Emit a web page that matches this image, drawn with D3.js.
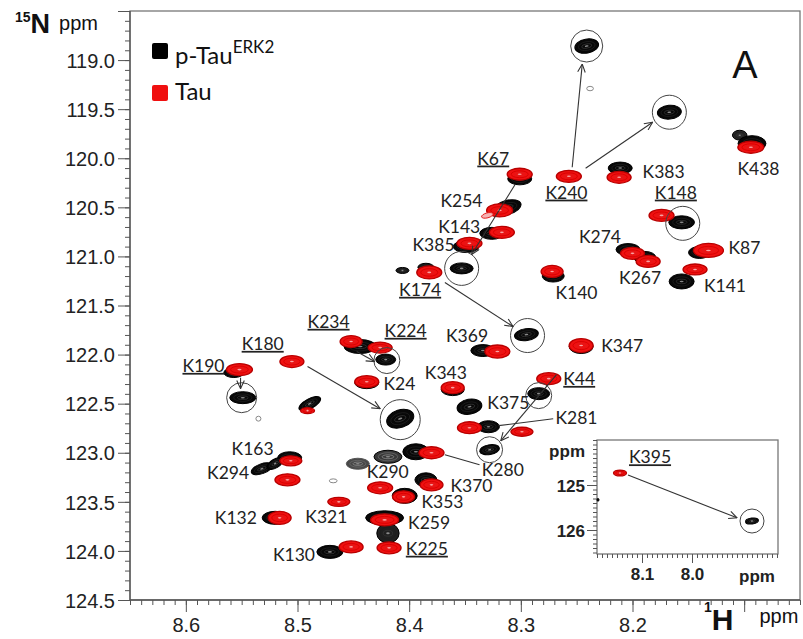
<!DOCTYPE html>
<html><head><meta charset="utf-8">
<script src="https://cdn.jsdelivr.net/npm/d3@7"></script>
<style>
body{margin:0;background:#fff;}
svg{display:block;}
.tick text{font-family:"Liberation Sans",Arial,sans-serif;fill:#222;}
</style></head><body>
<svg id="chart" width="803" height="639"></svg>
<script>
// 1H-15N HSQC cross peaks: [1H ppm, 15N ppm, 1H width ppm, 15N width ppm, intensity, tilt deg]
const pTauPeaks = [
  [8.241, 118.857, 0.0215, 0.143, 1, -10],
  [8.238, 119.290, 0.0060, 0.045, 0.5],
  [8.167, 119.531, 0.0215, 0.140, 1, -5],
  [8.104, 119.765, 0.0130, 0.100, 0.8],
  [8.093, 119.850, 0.0250, 0.160, 1],
  [8.211, 120.100, 0.0215, 0.122, 1],
  [8.301, 120.210, 0.0215, 0.122, 1],
  [8.312, 120.500, 0.0250, 0.143, 1, -15],
  [8.326, 120.765, 0.0215, 0.122, 1],
  [8.349, 120.900, 0.0230, 0.122, 1],
  [8.353, 121.122, 0.0206, 0.112, 1],
  [8.406, 121.143, 0.0116, 0.061, 0.9],
  [8.385, 121.110, 0.0143, 0.080, 0.9],
  [8.271, 121.200, 0.0197, 0.122, 1],
  [8.204, 120.930, 0.0215, 0.122, 1],
  [8.189, 121.010, 0.0197, 0.122, 1],
  [8.156, 120.653, 0.0230, 0.133, 1],
  [8.140, 120.960, 0.0197, 0.122, 1],
  [8.156, 121.255, 0.0224, 0.153, 1],
  [8.246, 121.918, 0.0215, 0.143, 1],
  [8.284, 122.398, 0.0197, 0.122, 1],
  [8.346, 122.531, 0.0224, 0.153, 1, -10],
  [8.361, 122.357, 0.0206, 0.122, 1],
  [8.334, 121.959, 0.0215, 0.122, 1],
  [8.295, 121.796, 0.0215, 0.122, 1, -8],
  [8.444, 121.918, 0.0287, 0.143, 1],
  [8.421, 122.051, 0.0179, 0.112, 1],
  [8.438, 122.286, 0.0215, 0.122, 1],
  [8.408, 122.653, 0.0250, 0.180, 1, -18],
  [8.489, 122.500, 0.0215, 0.100, 1, -28],
  [8.557, 122.184, 0.0180, 0.100, 1],
  [8.549, 122.439, 0.0233, 0.122, 1],
  [8.535, 122.653, 0.0045, 0.050, 0.4],
  [8.532, 123.163, 0.0197, 0.100, 1, -20],
  [8.507, 123.051, 0.0215, 0.122, 1],
  [8.520, 123.110, 0.0160, 0.090, 1, -30],
  [8.520, 123.663, 0.0233, 0.133, 1],
  [8.471, 124.010, 0.0233, 0.133, 1],
  [8.446, 123.112, 0.0206, 0.112, 0.6],
  [8.419, 123.041, 0.0250, 0.133, 0.7],
  [8.394, 122.990, 0.0233, 0.163, 1],
  [8.385, 123.276, 0.0197, 0.143, 1],
  [8.404, 123.439, 0.0224, 0.153, 1],
  [8.422, 123.663, 0.0340, 0.143, 1],
  [8.419, 123.820, 0.0200, 0.200, 0.85],
  [8.329, 122.735, 0.0197, 0.122, 1],
  [8.328, 122.969, 0.0179, 0.100, 1, -10],
  [8.468, 123.286, 0.0070, 0.040, 0.4]
];

const tauPeaks = [
  [8.094, 119.888, 0.0233, 0.122, 1],
  [8.257, 120.184, 0.0224, 0.122, 1],
  [8.212, 120.194, 0.0215, 0.122, 1],
  [8.301, 120.163, 0.0224, 0.122, 1],
  [8.319, 120.531, 0.0233, 0.133, 1],
  [8.330, 120.582, 0.0107, 0.050, 0.4, -15],
  [8.317, 120.755, 0.0224, 0.122, 1],
  [8.346, 120.867, 0.0224, 0.122, 1],
  [8.382, 121.163, 0.0224, 0.133, 1],
  [8.272, 121.153, 0.0197, 0.122, 1],
  [8.200, 120.969, 0.0215, 0.122, 1],
  [8.186, 121.051, 0.0215, 0.122, 1],
  [8.174, 120.582, 0.0224, 0.122, 1],
  [8.132, 120.939, 0.0269, 0.143, 1],
  [8.144, 121.133, 0.0215, 0.112, 1],
  [8.246, 121.908, 0.0215, 0.143, 1],
  [8.275, 122.245, 0.0215, 0.122, 1],
  [8.361, 122.337, 0.0206, 0.122, 1],
  [8.321, 121.969, 0.0224, 0.133, 1],
  [8.452, 121.867, 0.0197, 0.122, 1],
  [8.426, 121.929, 0.0215, 0.112, 1],
  [8.438, 122.276, 0.0215, 0.122, 1],
  [8.505, 122.071, 0.0215, 0.122, 1],
  [8.552, 122.153, 0.0233, 0.122, 1],
  [8.491, 122.571, 0.0125, 0.061, 1],
  [8.506, 123.082, 0.0197, 0.102, 1],
  [8.509, 123.276, 0.0224, 0.122, 1],
  [8.516, 123.663, 0.0206, 0.133, 1],
  [8.463, 123.500, 0.0197, 0.092, 1],
  [8.452, 123.959, 0.0215, 0.122, 1],
  [8.426, 123.357, 0.0224, 0.122, 1],
  [8.380, 123.000, 0.0224, 0.122, 1],
  [8.380, 123.327, 0.0206, 0.122, 1],
  [8.405, 123.449, 0.0197, 0.122, 1],
  [8.422, 123.684, 0.0250, 0.122, 1],
  [8.418, 123.969, 0.0215, 0.122, 1],
  [8.346, 122.745, 0.0215, 0.122, 1],
  [8.299, 122.786, 0.0197, 0.092, 1]
];

// Residue assignments: [label, 1H ppm, 15N ppm, underlined]
const assignments = [
  ["K67", 8.339, 120.000, true], ["K240", 8.278, 120.347, true], ["K383", 8.191, 120.133, false],
  ["K438", 8.106, 120.102, false], ["K148", 8.180, 120.347, true], ["K254", 8.372, 120.429, false],
  ["K143", 8.374, 120.694, false], ["K385", 8.397, 120.878, false], ["K174", 8.409, 121.337, true],
  ["K274", 8.248, 120.796, false], ["K267", 8.212, 121.214, false], ["K87", 8.114, 120.908, false],
  ["K141", 8.136, 121.296, false], ["K140", 8.269, 121.367, false], ["K369", 8.367, 121.806, false],
  ["K234", 8.491, 121.663, true], ["K224", 8.422, 121.755, true], ["K180", 8.550, 121.888, true],
  ["K24", 8.423, 122.296, false], ["K343", 8.386, 122.184, false], ["K375", 8.330, 122.490, false],
  ["K44", 8.262, 122.245, true], ["K347", 8.228, 121.908, false], ["K281", 8.269, 122.643, false],
  ["K280", 8.335, 123.173, false], ["K190", 8.603, 122.112, true], ["K163", 8.559, 122.959, false],
  ["K294", 8.581, 123.204, false], ["K132", 8.574, 123.663, false], ["K321", 8.493, 123.653, false],
  ["K130", 8.522, 124.041, false], ["K290", 8.438, 123.194, false], ["K370", 8.363, 123.340, false],
  ["K353", 8.389, 123.495, false], ["K259", 8.401, 123.712, false], ["K225", 8.403, 123.975, true]
];

// Shifted peaks marked by circles: [1H ppm, 15N ppm]
const shiftedPeaks = [
  [8.241, 118.857], [8.167, 119.531], [8.155, 120.663], [8.353, 121.122], [8.294, 121.806],
  [8.420, 122.061], [8.408, 122.663], [8.550, 122.439], [8.284, 122.418], [8.328, 122.969]
];
const circleRadius = [16, 17, 17, 17, 17, 13, 20, 15, 13, 13];

// Shift arrows and leader lines: [1H from, 15N from, 1H to, 15N to, arrowhead]
const shiftArrows = [
  [8.254, 120.092, 8.245, 119.041, true],
  [8.242, 120.102, 8.182, 119.633, true],
  [8.305, 120.265, 8.344, 120.980, true],
  [8.368, 121.265, 8.307, 121.714, true],
  [8.447, 121.969, 8.431, 122.071, true],
  [8.491, 122.122, 8.426, 122.551, true],
  [8.551, 122.235, 8.551, 122.347, true],
  [8.268, 122.204, 8.318, 122.878, true],
  [8.320, 122.724, 8.271, 122.653, false],
  [8.368, 123.020, 8.337, 123.122, false]
];

// Inset region (K395)
const insetTau = [[8.144, 124.733, 0.026, 0.13, 1]];
const insetPTau = [[7.880, 125.800, 0.026, 0.13, 1, -8], [8.188, 125.330, 0.004, 0.06, 1]];
const insetArrow = [8.128, 124.780, 7.910, 125.730];
const insetLabel = ["K395", 8.126, 124.378];

const yMajor = d3.range(0, 13).map(i => 118.5 + i * 0.5);
const yMinor = d3.range(0, 61).map(i => Math.round((118.5 + i * 0.1) * 10) / 10);
const xMajor = [8.6, 8.5, 8.4, 8.3, 8.2, 8.1];
const xLabeled = [8.6, 8.5, 8.4, 8.3, 8.2];
const xMinor = d3.range(0, 61).map(i => Math.round((8.05 + i * 0.01) * 100) / 100);
const insetXMajor = [8.1, 8.0];
const insetXMinor = d3.range(0, 37).map(i => Math.round((7.83 + i * 0.01) * 100) / 100);
const insetYMajor = [125, 126];
const insetYMinor = d3.range(0, 26).map(i => Math.round((124.0 + i * 0.1) * 10) / 10);

const svg = d3.select('#chart');
const x = d3.scaleLinear().domain([8.65, 8.05]).range([130, 800]);
const y = d3.scaleLinear().domain([118.5, 124.5]).range([11, 600]);

const defs = svg.append('defs');
defs.append('marker').attr('id', 'ah').attr('viewBox', '0 0 10 10')
  .attr('refX', 9.5).attr('refY', 5).attr('markerWidth', 9).attr('markerHeight', 9)
  .attr('markerUnits', 'userSpaceOnUse').attr('orient', 'auto')
  .append('path').attr('d', 'M0.5,0.8 L9.5,5 L0.5,9.2').attr('fill', 'none')
  .attr('stroke', '#333').attr('stroke-width', 1.2);

const blackShade = d3.interpolateRgb('#a8a8a8', '#080808');

function drawPeaks(g, xs, ys, data, kind) {
  data.forEach(d => {
    const cx = xs(d[0]), cy = ys(d[1]);
    const rx = Math.abs(xs(d[0] + d[2] / 2) - cx);
    const ry = Math.abs(ys(d[1] + d[3] / 2) - cy);
    const k = d[4] == null ? 1 : d[4];
    const pg = g.append('g').attr('transform', `translate(${cx},${cy}) rotate(${d[5] || 0})`);
    if (kind === 'black') {
      const c = blackShade(k);
      pg.append('ellipse').attr('rx', rx).attr('ry', ry).attr('fill', c)
        .attr('stroke', k < 0.7 ? '#555' : '#000').attr('stroke-width', 1);
      if (rx > 5) {
        pg.append('ellipse').attr('rx', rx * 0.7).attr('ry', ry * 0.62).attr('fill', 'none')
          .attr('stroke', k < 0.8 ? '#6a6a6a' : '#1e1e1e').attr('stroke-width', 0.8);
        pg.append('ellipse').attr('rx', rx * 0.42).attr('ry', ry * 0.3).attr('fill', 'none')
          .attr('stroke', k < 0.8 ? '#8a8a8a' : '#333').attr('stroke-width', 0.8);
        pg.append('ellipse').attr('rx', rx * 0.16).attr('ry', Math.max(0.8, ry * 0.1)).attr('fill', '#8a8a8a');
      } else if (k < 0.6) {
        pg.select('ellipse').attr('fill', '#fff').attr('stroke', '#888');
      }
    } else {
      if (k < 0.6) {
        pg.append('ellipse').attr('rx', rx).attr('ry', ry).attr('fill', '#f6b4b4')
          .attr('stroke', '#e02020').attr('stroke-width', 0.9);
        return;
      }
      pg.append('ellipse').attr('rx', rx).attr('ry', ry).attr('fill', '#f01010')
        .attr('stroke', '#b80000').attr('stroke-width', 1.3);
      if (rx > 5) {
        pg.append('ellipse').attr('rx', rx * 0.68).attr('ry', ry * 0.58).attr('fill', 'none')
          .attr('stroke', '#d00000').attr('stroke-width', 0.8);
        pg.append('ellipse').attr('rx', rx * 0.4).attr('ry', ry * 0.28).attr('fill', 'none')
          .attr('stroke', '#d82020').attr('stroke-width', 0.7);
        pg.append('ellipse').attr('rx', rx * 0.16).attr('ry', Math.max(0.8, ry * 0.1)).attr('fill', '#f7a3a3');
      }
    }
  });
}

// ---- main spectrum frame and axes
svg.append('rect').attr('x', 130).attr('y', 11).attr('width', 670).attr('height', 589)
  .attr('fill', '#fff').attr('stroke', '#777').attr('stroke-width', 1.3);

const axisStyle = sel => {
  sel.select('.domain').remove();
  sel.selectAll('.tick line').attr('stroke', '#555').attr('stroke-width', 1);
};

svg.append('g').attr('transform', 'translate(130,0)')
  .call(d3.axisLeft(y).tickValues(yMinor).tickSize(5).tickFormat(''))
  .call(axisStyle);
svg.append('g').attr('transform', 'translate(130,0)')
  .call(d3.axisLeft(y).tickValues(yMajor).tickSize(12).tickPadding(3)
    .tickFormat(d => d === 118.5 ? '' : d.toFixed(1)))
  .call(axisStyle)
  .call(g => g.selectAll('.tick text').attr('font-size', 20).attr('dy', '0.36em'));

svg.append('g').attr('transform', 'translate(0,600)')
  .call(d3.axisBottom(x).tickValues(xMinor).tickSize(5).tickFormat(''))
  .call(axisStyle);
svg.append('g').attr('transform', 'translate(0,600)')
  .call(d3.axisBottom(x).tickValues(xMajor).tickSize(12).tickPadding(6)
    .tickFormat(d => xLabeled.includes(d) ? d.toFixed(1) : ''))
  .call(axisStyle)
  .call(g => g.selectAll('.tick text').attr('font-size', 20));

svg.append('line').attr('x1', 130).attr('x2', 130).attr('y1', 11).attr('y2', 600)
  .attr('stroke', '#555').attr('stroke-width', 1.3);
svg.append('line').attr('x1', 130).attr('x2', 800).attr('y1', 600).attr('y2', 600)
  .attr('stroke', '#555').attr('stroke-width', 1.3);

// axis titles
const nTitle = svg.append('text').attr('x', 15).attr('y', 33)
  .attr('font-family', '"Liberation Sans",Arial,sans-serif').attr('fill', '#111');
nTitle.append('tspan').attr('font-size', 14).attr('font-weight', 'bold').attr('dy', -11).text('15');
nTitle.append('tspan').attr('font-size', 27).attr('font-weight', 'bold').attr('dy', 11).text('N');
nTitle.append('tspan').attr('font-size', 20).attr('dx', 9).attr('dy', -3).text('ppm');

const hTitle = svg.append('text').attr('x', 704).attr('y', 630)
  .attr('font-family', '"Liberation Sans",Arial,sans-serif').attr('fill', '#111');
hTitle.append('tspan').attr('font-size', 14).attr('font-weight', 'bold').attr('dy', -18).text('1');
hTitle.append('tspan').attr('font-size', 30).attr('font-weight', 'bold').attr('dy', 18).text('H');
hTitle.append('tspan').attr('font-size', 20).attr('dx', 26).attr('dy', -7).text('ppm');

// panel letter
svg.append('text').attr('x', 745).attr('y', 78).attr('text-anchor', 'middle')
  .attr('font-family', '"Liberation Sans",Arial,sans-serif').attr('font-size', 38)
  .attr('fill', '#111').text('A');

// legend
const legend = svg.append('g').attr('font-family', 'Lato,"Open Sans",sans-serif').attr('fill', '#111');
legend.append('rect').attr('x', 152).attr('y', 43).attr('width', 16).attr('height', 16).attr('rx', 2).attr('fill', '#000');
legend.append('rect').attr('x', 152).attr('y', 85).attr('width', 16).attr('height', 16).attr('rx', 2).attr('fill', '#f01010');
const l1 = legend.append('text').attr('x', 175).attr('y', 64).attr('font-size', 24);
l1.append('tspan').text('p-Tau');
l1.append('tspan').attr('font-size', 17).attr('dy', -11).text('ERK2');
legend.append('text').attr('x', 175).attr('y', 100).attr('font-size', 24).text('Tau');

// ---- peaks
const peakLayer = svg.append('g');
drawPeaks(peakLayer, x, y, pTauPeaks, 'black');
drawPeaks(peakLayer, x, y, tauPeaks, 'red');

// circles around shifted peaks
svg.append('g').selectAll('circle').data(shiftedPeaks).join('circle')
  .attr('cx', d => x(d[0])).attr('cy', d => y(d[1]))
  .attr('r', (d, i) => circleRadius[i])
  .attr('fill', 'none').attr('stroke', '#444').attr('stroke-width', 1);

// arrows and leader lines
svg.append('g').selectAll('line').data(shiftArrows).join('line')
  .attr('x1', d => x(d[0])).attr('y1', d => y(d[1]))
  .attr('x2', d => x(d[2])).attr('y2', d => y(d[3]))
  .attr('stroke', '#333').attr('stroke-width', 1.1)
  .attr('marker-end', d => d[4] ? 'url(#ah)' : null);

// residue labels
svg.append('g').selectAll('text').data(assignments).join('text')
  .attr('x', d => x(d[1])).attr('y', d => y(d[2]))
  .attr('dy', '0.36em')
  .attr('font-family', 'Lato,"Open Sans",sans-serif').attr('font-size', 17.5).attr('fill', '#222')
  .attr('text-decoration', d => d[3] ? 'underline' : null)
  .text(d => d[0]);

// ---- inset
const xi = d3.scaleLinear().domain([8.19, 7.828]).range([597, 778]);
const yi = d3.scaleLinear().domain([124.0, 126.533]).range([440, 554]);
const inset = svg.append('g');
inset.append('rect').attr('x', 597).attr('y', 440).attr('width', 181).attr('height', 114)
  .attr('fill', '#fff').attr('stroke', '#777').attr('stroke-width', 1.3);
inset.append('g').attr('transform', 'translate(597,0)')
  .call(d3.axisLeft(yi).tickValues(insetYMinor).tickSize(4).tickFormat('')).call(axisStyle);
inset.append('g').attr('transform', 'translate(597,0)')
  .call(d3.axisLeft(yi).tickValues(insetYMajor).tickSize(10).tickPadding(2).tickFormat(d3.format('d')))
  .call(axisStyle)
  .call(g => g.selectAll('.tick text').attr('font-size', 17).attr('font-weight', 'bold').attr('dy', '0.36em'));
inset.append('g').attr('transform', 'translate(0,554)')
  .call(d3.axisBottom(xi).tickValues(insetXMinor).tickSize(4).tickFormat('')).call(axisStyle);
inset.append('g').attr('transform', 'translate(0,554)')
  .call(d3.axisBottom(xi).tickValues(insetXMajor).tickSize(9).tickPadding(5).tickFormat(d3.format('.1f')))
  .call(axisStyle)
  .call(g => g.selectAll('.tick text').attr('font-size', 17).attr('font-weight', 'bold'));
inset.append('text').attr('x', 585).attr('y', 457).attr('text-anchor', 'end')
  .attr('font-family', '"Liberation Sans",Arial,sans-serif').attr('font-size', 17).attr('font-weight', 'bold')
  .attr('fill', '#222').text('ppm');
inset.append('text').attr('x', 757).attr('y', 582).attr('text-anchor', 'middle')
  .attr('font-family', '"Liberation Sans",Arial,sans-serif').attr('font-size', 17).attr('font-weight', 'bold')
  .attr('fill', '#222').text('ppm');

drawPeaks(inset, xi, yi, insetPTau, 'black');
drawPeaks(inset, xi, yi, insetTau, 'red');
inset.append('circle').attr('cx', xi(insetPTau[0][0])).attr('cy', yi(insetPTau[0][1])).attr('r', 12)
  .attr('fill', 'none').attr('stroke', '#444').attr('stroke-width', 1);
inset.append('line')
  .attr('x1', xi(insetArrow[0])).attr('y1', yi(insetArrow[1]))
  .attr('x2', xi(insetArrow[2])).attr('y2', yi(insetArrow[3]))
  .attr('stroke', '#333').attr('stroke-width', 1.1).attr('marker-end', 'url(#ah)');
inset.append('text').attr('x', xi(insetLabel[1])).attr('y', yi(insetLabel[2])).attr('dy', '0.36em')
  .attr('font-family', 'Lato,"Open Sans",sans-serif').attr('font-size', 17.5).attr('fill', '#222')
  .attr('text-decoration', 'underline').text(insetLabel[0]);
</script>
</body></html>
